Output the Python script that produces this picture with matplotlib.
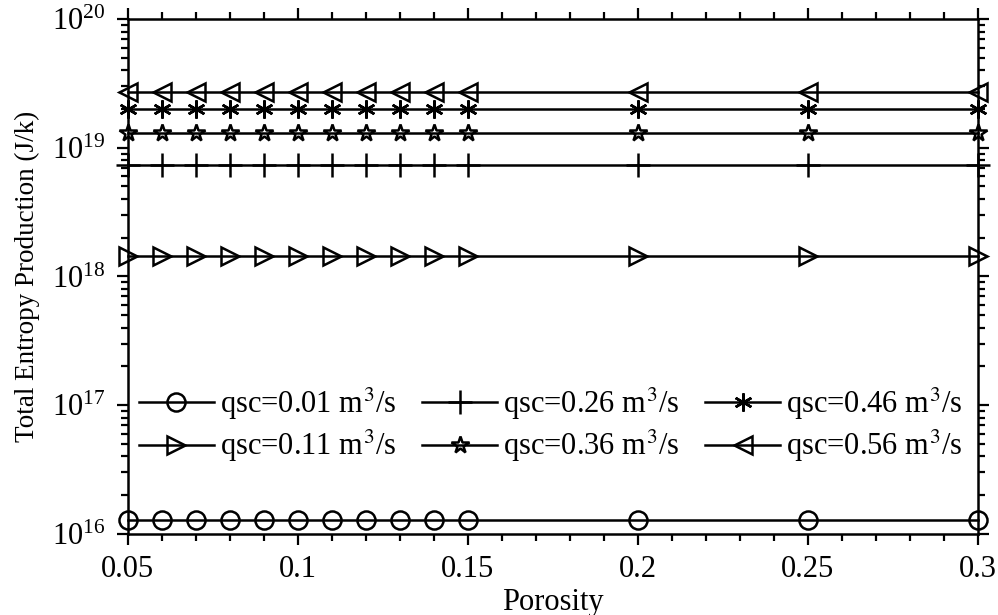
import matplotlib.pyplot as plt
import numpy as np

plt.rcParams['font.family'] = ['Liberation Serif', 'DejaVu Serif']
plt.rcParams['mathtext.fontset'] = 'stix'

porosity = np.array([0.05, 0.06, 0.07, 0.08, 0.09, 0.10, 0.11, 0.12, 0.13, 0.14, 0.15, 0.20, 0.25, 0.30])
labels = ["qsc=0.01 m$^3$/s", "qsc=0.11 m$^3$/s", "qsc=0.26 m$^3$/s",
          "qsc=0.36 m$^3$/s", "qsc=0.46 m$^3$/s", "qsc=0.56 m$^3$/s"]
entropy = [1.28e16, 1.44e18, 7.3e18, 1.30e19, 1.99e19, 2.71e19]
markers = ["o", ">", "+", "*", (6, 2, 0), "<"]

fig = plt.figure(figsize=(9.98, 6.15), dpi=100)
ax = fig.add_axes([0.128, 0.132, 0.852, 0.837])

for val, lab, m in zip(entropy, labels, markers):
    y = np.full(len(porosity), val)
    ax.plot(porosity, y, color="black", linewidth=1.8, marker=m,
            markersize=13 if m != "+" else 17,
            markerfacecolor="none", markeredgecolor="black", markeredgewidth=1.8,
            label=lab, clip_on=False, zorder=3)

ax.set_yscale("log")
ax.set_xlim(0.05, 0.3)
ax.set_ylim(1e16, 1e20)
ax.set_xticks([0.05, 0.1, 0.15, 0.2, 0.25, 0.3])
ax.set_xticklabels(["0.05", "0.1", "0.15", "0.2", "0.25", "0.3"])
ax.set_xticks(np.arange(0.05, 0.301, 0.01), minor=True)
ax.tick_params(which="both", direction="out", top=True, right=True, labelsize=22, width=1.6)
ax.tick_params(which="major", length=8)
ax.tick_params(which="minor", length=5)
ax.tick_params(axis="x", which="major", pad=7)
ax.tick_params(axis="y", which="major", pad=8)
for s in ax.spines.values():
    s.set_linewidth(1.8)

ax.set_xlabel("Porosity", fontsize=22, labelpad=3)
ax.set_ylabel("Total Entropy Production (J/k)", fontsize=19.5, labelpad=9)

ax.legend(ncol=3, loc="lower left", bbox_to_anchor=(-0.005, 0.105), frameon=False,
          fontsize=22, handlelength=2.45, columnspacing=0.85, handletextpad=0.2,
          labelspacing=0.2, borderaxespad=0.1)

fig.savefig("out.png", dpi=100)
